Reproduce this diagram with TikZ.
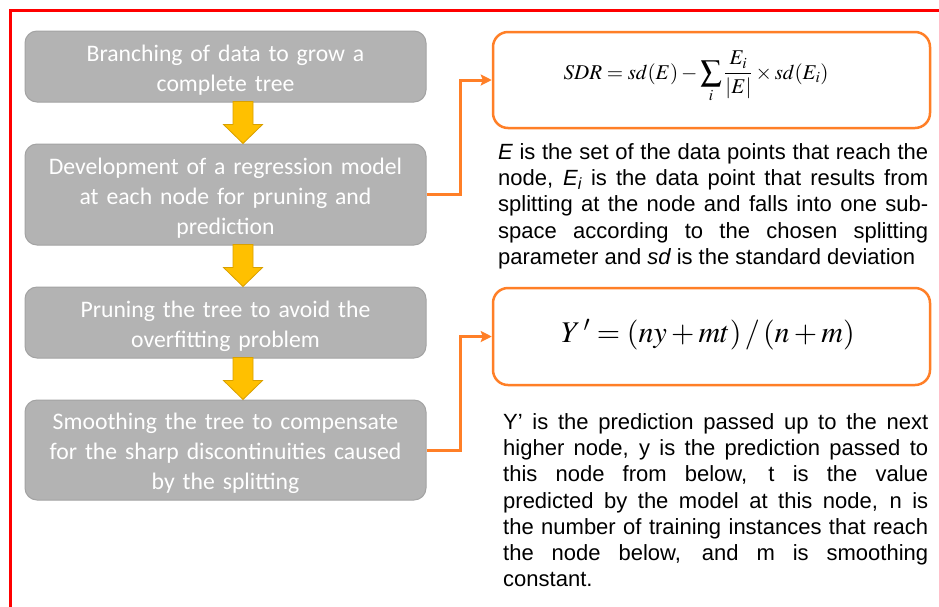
\documentclass[tikz,border=0pt]{standalone}
\usepackage{mathptmx}
\usepackage{fontspec}
\newfontfamily\arialf{Liberation Sans}
\newfontfamily\calibrif{Carlito}
\usetikzlibrary{arrows.meta,calc}
\definecolor{boxgray}{HTML}{B3B3B3}
\definecolor{boxedge}{HTML}{A3A3A3}
\definecolor{stepyellow}{HTML}{FFC000}
\definecolor{stepyedge}{HTML}{D9A000}
\definecolor{linkorange}{HTML}{FF7F27}
\definecolor{framered}{HTML}{FF0000}
\hbadness=10000
% block arrow pointing down from one step to the next
\newcommand\flowstep[2]{%
  \draw[flowarrow] let \p1=($(#1.south)+(17.5,0)$), \p2=($(#2.north)+(17.5,0)$) in
    (\x1-10pt,\y1+1pt) -- (\x1+10pt,\y1+1pt) -- (\x1+10pt,\y2+19pt) -- (\x1+19.5pt,\y2+19pt)
    -- (\x1,\y2) -- (\x1-19.5pt,\y2+19pt) -- (\x1-10pt,\y2+19pt) -- cycle;}
\begin{document}
\begin{tikzpicture}[x=1pt,y=-1pt,
  stepbox/.style={draw=boxedge, line width=1pt, fill=boxgray, rounded corners=12pt,
    minimum width=401pt, inner sep=0pt},
  steplabel/.style={text width=395pt, align=center, text=white,
    font=\calibrif\fontsize{23.7}{30}\selectfont, inner sep=0pt},
  formbox/.style={draw=linkorange, line width=2.5pt, rounded corners=15pt,
    minimum width=437pt, inner sep=0pt},
  link/.style={draw=linkorange, line width=3pt, -{Stealth[length=11pt,width=11pt,inset=2pt]}},
  note/.style={anchor=north west, inner sep=0pt, align=justify,
    font=\arialf\fontsize{22}{26.3}\selectfont},
  flowarrow/.style={fill=stepyellow, draw=stepyedge, line width=0.8pt, line join=miter}]

\useasboundingbox (0,0) rectangle (939,606);
\fill[white] (0,0) rectangle (939,606);

% outer frame
\draw[framered, line width=2.6pt] (10.5,620) -- (10.5,10.5) -- (950,10.5);

% process steps
\node[stepbox, minimum height=71pt]  (b1) at (225.5,66.5)  {};
\node[stepbox, minimum height=101pt] (b2) at (225.5,194.5) {};
\node[stepbox, minimum height=71pt]  (b3) at (225.5,322.5) {};
\node[stepbox, minimum height=100pt] (b4) at (225.5,450)   {};
\node[steplabel] (b1t) at ($(b1.center)+(0,3.5)$) {Branching of data to grow a\\complete tree};
\node[steplabel] (b2t) at ($(b2.center)+(0,3.5)$) {Development of a regression model\\at each node for pruning and\\prediction};
\node[steplabel] (b3t) at ($(b3.center)+(0,3.5)$) {Pruning the tree to avoid the\\overfitting problem};
\node[steplabel] (b4t) at ($(b4.center)+(0,3.5)$) {Smoothing the tree to compensate\\for the sharp discontinuities caused\\by the splitting};

\flowstep{b1}{b2}
\flowstep{b2}{b3}
\flowstep{b3}{b4}

% formula boxes
\node[formbox, minimum height=96pt] (f1) at (711.5,80) {};
\node[inner sep=0pt, font=\fontsize{21}{25}\selectfont] (m1) at (696,77)
  {$\displaystyle SDR = sd(E) - \sum_{i}\frac{E_i}{|E|}\times sd(E_i)$};
\node[formbox, minimum height=97pt] (f2) at (711.5,336.5) {};
\node[inner sep=0pt, font=\fontsize{30}{36}\selectfont] (m2) at (708,335)
  {$Y\,' = (ny + mt)\,/\,(n + m)$};

\draw[link] (b2.east) -- ++(34,0) |- (f1.west);
\draw[link] (b4.east) -- ++(34,0) |- (f2.west);

% explanations
\node[note, text width=430pt] (t1) at (498,143) {%
{\itshape E} is the set of the data points that reach the\linebreak
node, {\itshape E}\textsubscript{\itshape i} is the data point that results from\linebreak
splitting at the node and falls into one sub-\linebreak
space according to the chosen splitting\linebreak
parameter and {\itshape sd} is the standard deviation};

\node[note, text width=425pt] (t2) at (503,413) {%
Y’ is the prediction passed up to the next\linebreak
higher node, y is the prediction passed to\linebreak
this node from below, t is the value\linebreak
predicted by the model at this node, n is\linebreak
the number of training instances that reach\linebreak
the node below, and m is smoothing\linebreak
constant.};
\end{tikzpicture}
\end{document}
